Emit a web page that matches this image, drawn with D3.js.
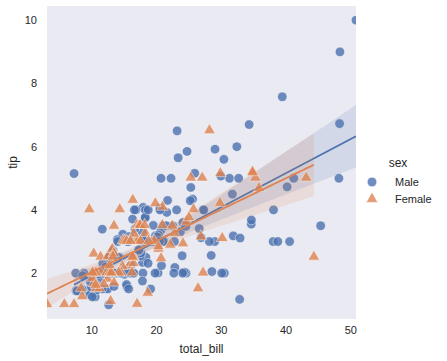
<!DOCTYPE html>
<html>
<head>
<meta charset="utf-8">
<script src="https://cdn.jsdelivr.net/npm/d3@7"></script>
<style>
  body { margin: 0; background: #fff; }
  text { font-family: "Liberation Sans", Arial, sans-serif; fill: #262626; }
</style>
</head>
<body>
<div id="chart"></div>
<script>
'use strict'

// tips dataset, split by sex
const maleBill = [10.34,21.01,23.68,25.29,8.77,26.88,15.04,14.78,10.27,15.42,18.43,21.58,16.29,20.65,17.92,39.42,19.82,17.81,13.37,12.69,
  21.7,9.55,18.35,17.78,24.06,16.31,18.69,31.27,16.04,17.46,13.94,9.68,30.4,18.29,22.23,32.4,28.55,18.04,12.54,9.94,
  25.56,19.49,38.01,11.24,48.27,20.29,13.81,11.02,18.29,17.59,20.08,20.23,15.01,12.02,10.51,17.92,27.2,22.76,17.29,19.44,
  16.66,32.68,15.98,13.03,18.28,24.71,21.16,28.97,22.49,40.17,27.28,12.03,21.01,12.46,15.36,20.49,25.21,18.24,14.0,38.07,
  23.95,29.93,11.69,14.26,15.95,8.52,22.82,19.08,16.0,34.3,41.19,9.78,7.51,14.07,13.13,17.26,24.55,19.77,48.17,16.49,
  21.5,12.66,13.81,24.52,20.76,31.71,50.81,15.81,7.25,31.85,16.82,32.9,17.89,14.48,34.63,34.65,23.33,45.35,23.17,40.55,
  20.69,30.46,23.1,15.69,28.44,15.48,16.58,7.56,10.34,13.51,18.71,20.53,26.59,38.73,24.27,30.06,25.89,48.33,28.15,11.59,
  7.74,12.16,8.58,13.42,20.45,13.28,24.01,15.69,11.61,10.77,15.53,10.07,12.6,32.83,29.03,22.67,17.82];
const maleTip = [1.66,3.5,3.31,4.71,2.0,3.12,1.96,3.23,1.71,1.57,3.0,3.92,3.71,3.35,4.08,7.58,3.18,2.34,2.0,2.0,
  4.3,1.45,2.5,3.27,3.6,2.0,2.31,5.0,2.24,2.54,3.06,1.32,5.6,3.0,5.0,6.0,2.05,3.0,2.5,1.56,
  4.34,3.51,3.0,1.76,6.73,3.21,2.0,1.98,3.76,2.64,3.15,2.01,2.09,1.97,1.25,3.08,4.0,3.0,2.71,3.0,
  3.4,5.0,2.03,2.0,4.0,5.85,3.0,3.0,3.5,4.73,4.0,1.5,3.0,1.5,1.64,4.06,4.29,3.76,3.0,4.0,
  2.55,5.07,2.31,2.5,2.0,1.48,2.18,1.5,2.0,6.7,5.0,1.73,2.0,2.5,2.0,2.74,2.0,2.0,5.0,2.0,
  3.5,2.5,2.0,3.48,2.24,4.5,10.0,3.16,5.15,3.18,4.0,3.11,2.0,2.0,3.55,3.68,5.65,3.5,6.5,3.0,
  5.0,2.0,4.0,1.5,2.56,2.02,4.0,1.44,2.0,2.0,4.0,4.0,3.41,3.0,2.03,2.0,5.16,9.0,3.0,1.5,
  1.44,2.2,1.92,1.58,3.0,2.72,2.0,3.0,3.39,1.47,3.0,1.25,1.0,1.17,5.92,2.0,1.75];

const femaleBill = [16.99,24.59,35.26,14.83,10.33,16.97,20.29,15.77,19.65,15.06,20.69,16.93,10.29,34.81,26.41,16.45,3.07,17.07,26.86,25.28,
  14.73,10.07,34.83,5.75,16.32,22.75,11.35,15.38,44.3,22.42,20.92,14.31,7.25,25.71,17.31,10.65,12.43,24.08,13.42,12.48,
  29.8,14.52,11.38,20.27,11.17,12.26,18.26,8.51,10.33,14.15,13.16,17.47,27.05,16.43,8.35,18.64,11.87,29.85,25.0,13.39,
  16.21,17.51,10.59,10.63,9.6,20.9,18.15,19.81,43.11,13.0,12.74,13.0,16.4,16.47,12.76,13.27,28.17,12.9,30.14,13.42,
  15.98,16.27,10.09,22.12,35.83,27.18,18.78];
const femaleTip = [1.01,3.61,5.0,3.02,1.67,3.5,2.75,2.23,3.0,3.0,2.45,3.07,2.6,5.2,1.5,2.47,1.0,3.0,3.14,5.0,
  2.2,1.83,5.17,1.0,4.3,3.25,2.5,3.0,2.5,3.48,4.08,4.0,1.0,4.0,3.5,1.5,1.8,2.92,1.68,2.52,
  4.2,2.0,2.0,2.83,1.5,2.0,3.25,1.25,2.0,2.0,2.75,3.5,5.0,2.3,1.5,1.36,1.63,5.14,3.75,2.61,
  2.0,3.0,1.61,2.0,4.0,3.5,3.5,4.19,5.0,2.0,2.01,2.0,2.5,3.23,2.23,2.5,6.5,1.1,3.09,3.48,
  3.0,2.5,2.0,2.88,4.67,2.0,3.0];

const sexes = ['Male', 'Female'];
const colors = ['#4C72B0', '#DD8452'];
const xTicks = [10, 20, 30, 40, 50];
const yTicks = [2, 4, 6, 8, 10];

const groups = [
    {name: sexes[0], color: colors[0], pts: maleBill.map((b, i) => ({x: b, y: maleTip[i]}))},
    {name: sexes[1], color: colors[1], pts: femaleBill.map((b, i) => ({x: b, y: femaleTip[i]}))}
];

const W = 447, H = 361;
const pL = 47, pR = 356, pT = 6, pB = 319;

const allX = maleBill.concat(femaleBill);
const x = d3.scaleLinear().domain([d3.min(allX), d3.max(allX)]).range([pL, pR]);
const y = d3.scaleLinear().domain([0.55, 10.45]).range([pB, pT]);

const svg = d3.select('#chart').append('svg')
    .attr('width', W).attr('height', H);

svg.append('rect')
    .attr('x', pL).attr('y', pT)
    .attr('width', pR - pL).attr('height', pB - pT)
    .attr('fill', '#EAEAF2');

svg.append('clipPath').attr('id', 'clip')
    .append('rect')
    .attr('x', pL).attr('y', pT)
    .attr('width', pR - pL).attr('height', pB - pT);

const plot = svg.append('g').attr('clip-path', 'url(#clip)');

const tri = d3.symbol().type(d3.symbolTriangle).size(60);

// least squares fit, 95% band from a robust (sandwich) variance,
// which is close to what a bootstrap over the points gives
function fit(pts) {
    const n = pts.length;
    const mx = d3.mean(pts, d => d.x), my = d3.mean(pts, d => d.y);
    const sxx = d3.sum(pts, d => (d.x - mx) ** 2);
    const sxy = d3.sum(pts, d => (d.x - mx) * (d.y - my));
    const b = sxy / sxx, a = my - b * mx;
    const e2 = pts.map(d => (d.y - a - b * d.x) ** 2);
    const k = n / (n - 2);
    const m0 = d3.sum(e2) * k;
    const m1 = d3.sum(pts, (d, i) => e2[i] * (d.x - mx)) * k;
    const m2 = d3.sum(pts, (d, i) => e2[i] * (d.x - mx) ** 2) * k;
    const [x0, x1] = d3.extent(pts, d => d.x);
    return d3.range(100).map(i => {
        const xv = x0 + (x1 - x0) * i / 99;
        const c = xv - mx;
        const v = m0 / (n * n) + 2 * c * m1 / (n * sxx) + c * c * m2 / (sxx * sxx);
        const se = Math.sqrt(v);
        const yv = a + b * xv;
        return {x: xv, y: yv, lo: yv - 1.97 * se, hi: yv + 1.97 * se};
    });
}

groups.forEach((g, gi) => {
    const marks = plot.append('g').selectAll('.pt')
        .data(g.pts)
        .enter();
    if (gi === 0) {
        marks.append('circle')
            .attr('cx', d => x(d.x))
            .attr('cy', d => y(d.y))
            .attr('r', 4.8)
            .attr('fill', g.color)
            .attr('stroke', '#fff')
            .attr('stroke-width', 0.6)
            .attr('opacity', 0.8);
    } else {
        marks.append('path')
            .attr('d', tri)
            .attr('transform', d => `translate(${x(d.x)},${y(d.y) - 0.6})`)
            .attr('fill', g.color)
            .attr('stroke', '#fff')
            .attr('stroke-width', 0.6)
            .attr('opacity', 0.8);
    }

    const line = fit(g.pts);
    plot.append('path')
        .datum(line)
        .attr('d', d3.area().x(d => x(d.x)).y0(d => y(d.lo)).y1(d => y(d.hi)))
        .attr('fill', g.color)
        .attr('fill-opacity', 0.15);
    plot.append('path')
        .datum(line)
        .attr('d', d3.line().x(d => x(d.x)).y(d => y(d.y)))
        .attr('fill', 'none')
        .attr('stroke', g.color)
        .attr('stroke-width', 1.8);
});

// axes, no tick marks
svg.append('g').selectAll('text')
    .data(xTicks)
    .enter().append('text')
    .attr('x', d => x(d))
    .attr('y', pB + 15)
    .attr('text-anchor', 'middle')
    .style('font-size', '11px')
    .text(d => d);

svg.append('g').selectAll('text')
    .data(yTicks)
    .enter().append('text')
    .attr('x', pL - 10)
    .attr('y', d => y(d) + 4)
    .attr('text-anchor', 'end')
    .style('font-size', '11px')
    .text(d => d);

svg.append('text')
    .attr('x', (pL + pR) / 2)
    .attr('y', 353)
    .attr('text-anchor', 'middle')
    .style('font-size', '12px')
    .text('total_bill');

svg.append('text')
    .attr('transform', `translate(17,${(pT + pB) / 2}) rotate(-90)`)
    .attr('text-anchor', 'middle')
    .style('font-size', '12px')
    .text('tip');

// legend
const lg = svg.append('g');
lg.append('text')
    .attr('x', 398).attr('y', 167)
    .attr('text-anchor', 'middle')
    .style('font-size', '12px')
    .text('sex');

const items = lg.selectAll('.item')
    .data(groups)
    .enter().append('g')
    .attr('transform', (d, i) => `translate(372,${182 + i * 17})`);

items.each(function(d, i) {
    const it = d3.select(this);
    if (i === 0) {
        it.append('circle').attr('r', 4.8).attr('fill', d.color)
            .attr('opacity', 0.8).attr('stroke', '#fff').attr('stroke-width', 0.6);
    } else {
        it.append('path').attr('d', tri).attr('fill', d.color)
            .attr('opacity', 0.8).attr('stroke', '#fff').attr('stroke-width', 0.6);
    }
});

items.append('text')
    .attr('x', 23).attr('y', 4)
    .style('font-size', '11px')
    .text(d => d.name);
</script>
</body>
</html>
